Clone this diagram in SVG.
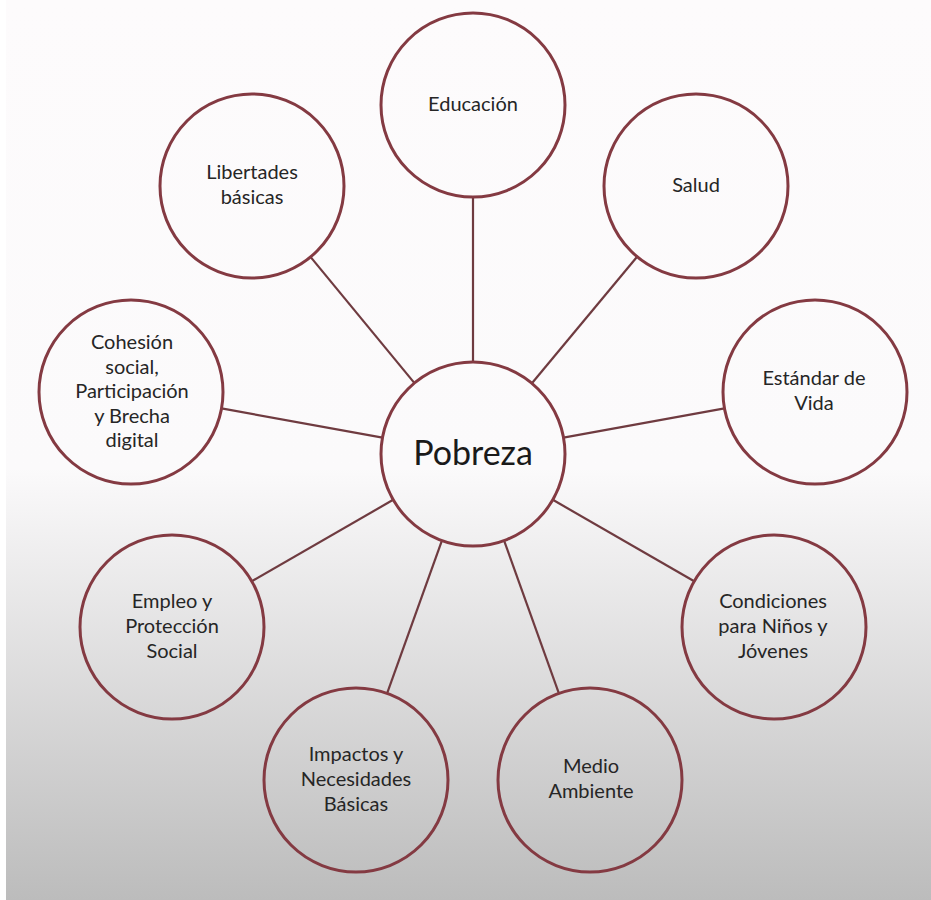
<svg xmlns="http://www.w3.org/2000/svg" width="931" height="900" viewBox="0 0 931 900">
<defs>
<linearGradient id="bg" x1="0" y1="0" x2="0" y2="900" gradientUnits="userSpaceOnUse">
<stop offset="0" stop-color="#fdfbfc"/>
<stop offset="0.52" stop-color="#fbfafb"/>
<stop offset="1" stop-color="#bcbcbc"/>
</linearGradient>
<style>
.n{fill:none;stroke:#843a42;stroke-width:3}
.c line{stroke:#6f3b40;stroke-width:2.2}
text{font-family:Lato,"Open Sans","Liberation Sans",sans-serif;font-size:20px;fill:#262626;text-anchor:middle}
.big{font-size:34px;fill:#1a1a1a}
</style>
</defs>
<rect width="931" height="900" fill="url(#bg)"/>
<rect width="6" height="900" fill="#ffffff"/>
<g class="c" id="connectors">
<line x1="473" y1="197" x2="473" y2="362"/>
<line x1="310.5" y1="256.9" x2="414.5" y2="383.1"/>
<line x1="637.1" y1="256.7" x2="531.9" y2="383.3"/>
<line x1="221.5" y1="408.4" x2="382.5" y2="437.6"/>
<line x1="724.5" y1="408.4" x2="563.5" y2="437.6"/>
<line x1="251.8" y1="581.2" x2="393.2" y2="499.8"/>
<line x1="694.2" y1="581.2" x2="552.8" y2="499.8"/>
<line x1="387.1" y1="693.4" x2="441.9" y2="540.6"/>
<line x1="558.9" y1="693.4" x2="504.1" y2="540.6"/>
</g>
<g id="pobreza"><circle class="n" cx="473" cy="454" r="92"/><text class="big" x="473" y="465">Pobreza</text></g>
<g id="educacion"><circle class="n" cx="473" cy="105" r="92"/><text x="473" y="111">Educación</text></g>
<g id="libertades"><circle class="n" cx="252" cy="186" r="92"/><text x="252" y="179">Libertades</text><text x="252" y="204">básicas</text></g>
<g id="salud"><circle class="n" cx="696" cy="186" r="92"/><text x="696" y="192">Salud</text></g>
<g id="cohesion"><circle class="n" cx="131" cy="392" r="92"/><text x="132" y="349">Cohesión</text><text x="132" y="373.5">social,</text><text x="132" y="398">Participación</text><text x="132" y="422.5">y Brecha</text><text x="132" y="447">digital</text></g>
<g id="estandar"><circle class="n" cx="815" cy="392" r="92"/><text x="814" y="385">Estándar de</text><text x="814" y="410">Vida</text></g>
<g id="empleo"><circle class="n" cx="172" cy="627" r="92"/><text x="172" y="608">Empleo y</text><text x="172" y="633">Protección</text><text x="172" y="658">Social</text></g>
<g id="condiciones"><circle class="n" cx="774" cy="627" r="92"/><text x="773" y="608">Condiciones</text><text x="773" y="633">para Niños y</text><text x="773" y="658">Jóvenes</text></g>
<g id="impactos"><circle class="n" cx="356" cy="780" r="92"/><text x="356" y="761">Impactos y</text><text x="356" y="786">Necesidades</text><text x="356" y="811">Básicas</text></g>
<g id="medio"><circle class="n" cx="590" cy="780" r="92"/><text x="591" y="773">Medio</text><text x="591" y="798">Ambiente</text></g>
</svg>
